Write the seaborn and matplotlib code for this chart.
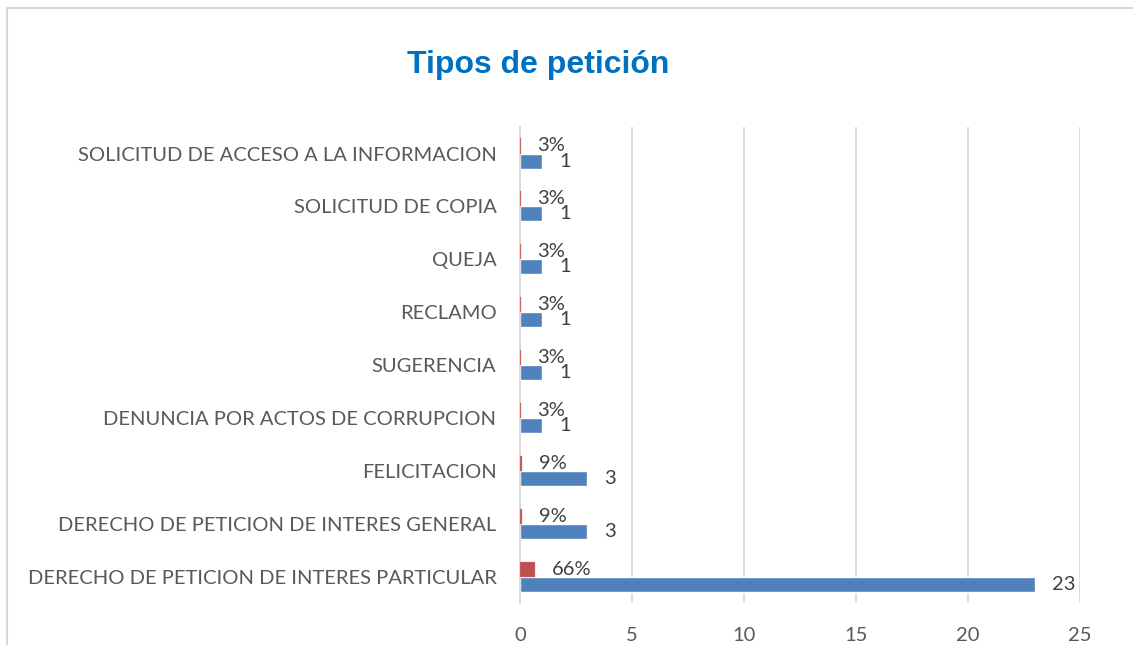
import matplotlib
matplotlib.use("Agg")
import matplotlib.pyplot as plt
import pandas as pd
import seaborn as sns
from matplotlib.lines import Line2D

# ---- data (top to bottom as shown)
categorias = [
    "SOLICITUD DE ACCESO A LA INFORMACION",
    "SOLICITUD DE COPIA",
    "QUEJA",
    "RECLAMO",
    "SUGERENCIA",
    "DENUNCIA POR ACTOS DE CORRUPCION",
    "FELICITACION",
    "DERECHO DE PETICION DE INTERES GENERAL",
    "DERECHO DE PETICION DE INTERES PARTICULAR",
]
cantidad = [1, 1, 1, 1, 1, 1, 3, 3, 23]
porcentaje = [0.03, 0.03, 0.03, 0.03, 0.03, 0.03, 0.09, 0.09, 0.66]
ticks_x = [0, 5, 10, 15, 20, 25]

df = pd.DataFrame({
    "categoria": categorias * 2,
    "valor": porcentaje + cantidad,
    "serie": ["pct"] * len(categorias) + ["cant"] * len(categorias),
})

sns.set_theme(style="white")
plt.rcParams["font.family"] = ["Lato", "DejaVu Sans"]

fig = plt.figure(figsize=(11.33, 6.45), dpi=100)
ax = fig.add_axes([0.459, 0.065, 0.494, 0.738])

sns.barplot(data=df, x="valor", y="categoria", hue="serie",
            order=categorias, hue_order=["pct", "cant"],
            palette={"pct": "#C0504D", "cant": "#4F81BD"},
            width=0.57, orient="h", ax=ax, legend=False, saturation=1)

# red bars on top of the axis line, with a hairline edge so the tiny ones show
for bar in ax.containers[0]:
    bar.set_zorder(3)
    bar.set_edgecolor("#D98A88")
    bar.set_linewidth(0.3)

# data labels
for cont, serie in zip(ax.containers, ["pct", "cant"]):
    for bar, v in zip(cont, porcentaje if serie == "pct" else cantidad):
        txt = f"{round(v * 100)}%" if serie == "pct" else f"{v}"
        ax.annotate(txt, (bar.get_width(), bar.get_y() + bar.get_height() / 2),
                    xytext=(12, 0), textcoords="offset points",
                    ha="left", va="center", fontsize=14.5, color="#404040")

ax.set_xlim(0, 25)
ax.set_xticks(ticks_x)
ax.set_ylim(len(categorias) - 0.5, -0.5)
ax.xaxis.grid(True, color="#D9D9D9", linewidth=1.3)
ax.set_axisbelow(True)
for s in ["top", "right", "bottom"]:
    ax.spines[s].set_visible(False)
ax.spines["left"].set_color("#D9D9D9")
ax.spines["left"].set_linewidth(1.3)
ax.tick_params(axis="x", length=0, labelsize=14.5, labelcolor="#595959", pad=17)
ax.tick_params(axis="y", length=0, labelsize=14.5, labelcolor="#595959", pad=17)
ax.set_xlabel("")
ax.set_ylabel("")

fig.text(0.475, 0.899, "Tipos de petición", ha="center", va="center",
         fontsize=23, fontweight="bold", color="#0070C0",
         family=["Liberation Sans", "DejaVu Sans"])

# chart frame (only top and left visible in the crop)
fig.add_artist(Line2D([0.0062, 0.0062], [0, 0.988], transform=fig.transFigure,
                      color="#D9D9D9", linewidth=1.5))
fig.add_artist(Line2D([0.0062, 1], [0.988, 0.988], transform=fig.transFigure,
                      color="#D9D9D9", linewidth=1.5))

fig.savefig("out.png", dpi=100)
